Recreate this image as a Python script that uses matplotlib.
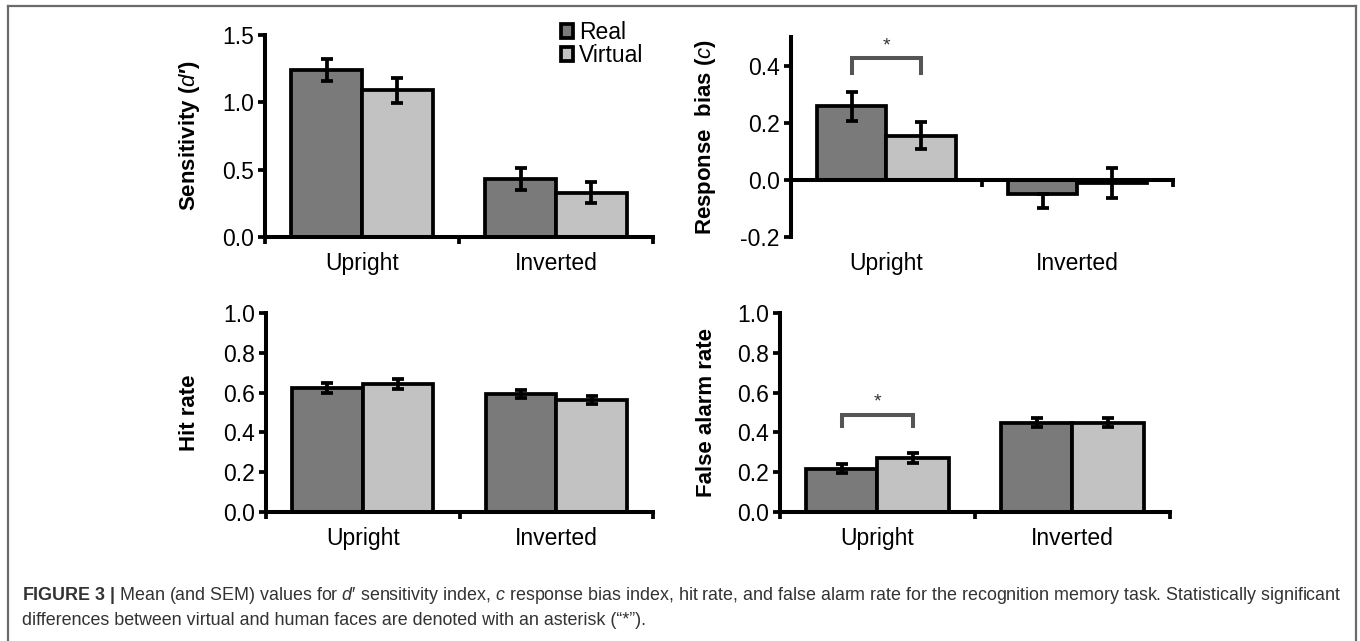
import matplotlib
matplotlib.use("Agg")
import matplotlib.pyplot as plt
from matplotlib.patches import Patch
from matplotlib.lines import Line2D
import numpy as np

plt.rcParams['font.family'] = ['Liberation Sans', 'DejaVu Sans']
plt.rcParams['mathtext.fontset'] = 'custom'
plt.rcParams['mathtext.rm'] = 'Liberation Sans'
plt.rcParams['mathtext.it'] = 'Liberation Sans:italic'
plt.rcParams['mathtext.bf'] = 'Liberation Sans:bold'

# -----------------------------
# data
# -----------------------------
conditions = ['Upright', 'Inverted']
groups = ['Real', 'Virtual']

dprime_real = [1.24, 0.43]
dprime_virtual = [1.09, 0.33]
dprime_real_sem = [0.085, 0.08]
dprime_virtual_sem = [0.093, 0.078]

bias_real = [0.257, -0.05]
bias_virtual = [0.155, -0.01]
bias_real_sem_low = [0.05, 0.05]
bias_real_sem_high = [0.05, 0.0]
bias_virtual_sem = [0.047, 0.052]

hit_real = [0.625, 0.593]
hit_virtual = [0.641, 0.563]
hit_real_sem = [0.025, 0.018]
hit_virtual_sem = [0.025, 0.02]

fa_real = [0.218, 0.448]
fa_virtual = [0.27, 0.448]
fa_real_sem = [0.022, 0.022]
fa_virtual_sem = [0.025, 0.022]

# significance brackets (Upright, Real vs Virtual): leg bottom, top
bias_bracket = [0.375, 0.425]
fa_bracket = [0.43, 0.487]

real_color = '#7a7a7a'
virtual_color = '#c2c2c2'
BAR_W = 0.365
LW = 2.7
FS = 16.5


def panel(ax, real, virtual, real_err, virt_err, ylim, yticks, ylabel,
          label_x, zero_axis=False, bracket=None):
    x = np.arange(len(conditions)) + 0.5
    ax.bar(x - BAR_W / 2, real, BAR_W, color=real_color, edgecolor='black',
           linewidth=LW, zorder=2)
    ax.bar(x + BAR_W / 2, virtual, BAR_W, color=virtual_color, edgecolor='black',
           linewidth=LW, zorder=2)
    ax.errorbar(x - BAR_W / 2, real, yerr=real_err, fmt='none', ecolor='black',
                elinewidth=LW, capsize=4, capthick=LW, zorder=3)
    ax.errorbar(x + BAR_W / 2, virtual, yerr=virt_err, fmt='none', ecolor='black',
                elinewidth=LW, capsize=4, capthick=LW, zorder=3)

    ax.set_xlim(0, 2)
    ax.set_ylim(*ylim)
    ax.set_yticks(yticks)
    ax.set_yticklabels(['%.1f' % t for t in yticks], fontsize=FS)
    ax.set_xticks([0, 1, 2])
    ax.set_xticklabels([])
    ax.tick_params(axis='both', direction='out', width=LW, length=5, color='black')
    ax.tick_params(axis='y', pad=3)
    for s in ['top', 'right']:
        ax.spines[s].set_visible(False)
    for s in ['left', 'bottom']:
        ax.spines[s].set_linewidth(2.9)
        ax.spines[s].set_color('black')
    if zero_axis:
        ax.spines['bottom'].set_position(('data', 0))
    for xi, name in zip(x, conditions):
        ax.annotate(name, xy=(xi, 0), xycoords=('data', 'axes fraction'),
                    xytext=(0, -19), textcoords='offset points',
                    ha='center', va='center', fontsize=FS)
    ax.set_ylabel(ylabel, fontsize=16, fontweight='bold')
    ax.yaxis.set_label_coords(label_x, 0.5)

    if bracket is not None:
        x0 = x[0] - BAR_W / 2
        x1 = x[0] + BAR_W / 2
        ax.plot([x0, x0, x1, x1], [bracket[0], bracket[1], bracket[1], bracket[0]],
                color='#555555', linewidth=2.9, solid_joinstyle='miter', zorder=4)
        ax.annotate('*', xy=((x0 + x1) / 2, bracket[1]), xytext=(0, 3),
                    textcoords='offset points', ha='center', va='bottom',
                    fontsize=14, color='#333333')


fig = plt.figure(figsize=(13.6, 6.41), dpi=100)

ax1 = fig.add_axes([0.1949, 0.6303, 0.2853, 0.3151])
ax2 = fig.add_axes([0.5816, 0.6303, 0.2809, 0.3120])
ax3 = fig.add_axes([0.1956, 0.2012, 0.2846, 0.3105])
ax4 = fig.add_axes([0.5735, 0.2012, 0.2868, 0.3105])

panel(ax1, dprime_real, dprime_virtual, dprime_real_sem, dprime_virtual_sem,
      (0, 1.5), [0.0, 0.5, 1.0, 1.5], "Sensitivity ($\\mathit{d}$\u2032)", -0.162)
panel(ax2, bias_real, bias_virtual, [bias_real_sem_low, bias_real_sem_high],
      bias_virtual_sem, (-0.2, 0.5), [-0.2, 0.0, 0.2, 0.4],
      r"Response  bias ($\mathit{c}$)", -0.191, zero_axis=True, bracket=bias_bracket)
panel(ax3, hit_real, hit_virtual, hit_real_sem, hit_virtual_sem,
      (0, 1.0), [0.0, 0.2, 0.4, 0.6, 0.8, 1.0], 'Hit rate', -0.17)
panel(ax4, fa_real, fa_virtual, fa_real_sem, fa_virtual_sem,
      (0, 1.0), [0.0, 0.2, 0.4, 0.6, 0.8, 1.0], 'False alarm rate', -0.162,
      bracket=fa_bracket)

handles = [Patch(facecolor=real_color, edgecolor='black', linewidth=LW),
           Patch(facecolor=virtual_color, edgecolor='black', linewidth=LW)]
ax1.legend(handles, groups, loc='upper left', bbox_to_anchor=(0.762, 1.07),
           frameon=False, fontsize=FS, handlelength=0.55, handleheight=0.55,
           handletextpad=0.25, labelspacing=0.02, borderpad=0, borderaxespad=0)

# frame around figure + caption
W, H = 1360, 641
frame_kw = dict(color='#6a6a6a', linewidth=1.6, transform=fig.transFigure)
fig.add_artist(Line2D([8 / W, 1356 / W], [1 - 6 / H, 1 - 6 / H], **frame_kw))
fig.add_artist(Line2D([8 / W, 8 / W], [1 - 6 / H, 0], **frame_kw))
fig.add_artist(Line2D([1356 / W, 1356 / W], [1 - 6 / H, 0], **frame_kw))

line1 = ("$\\mathbf{FIGURE\\ 3\\ |}$ Mean (and SEM) values for $\\mathit{d}$\u2032 sensitivity index, "
         "$\\mathit{c}$ response bias index, hit rate, and false alarm rate for the recognition "
         "memory task. Statistically significant")
line2 = 'differences between virtual and human faces are denoted with an asterisk (\u201c*\u201d).'
fig.text(22 / W, 1 - 600 / H, line1, fontsize=12.9, color='#333333', va='baseline')
fig.text(22 / W, 1 - 625 / H, line2, fontsize=12.9, color='#333333', va='baseline')

fig.savefig('out.png', dpi=100)
